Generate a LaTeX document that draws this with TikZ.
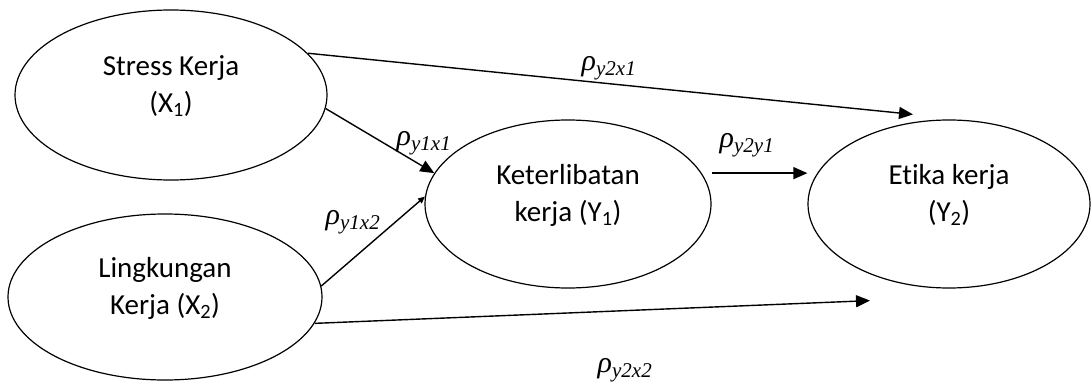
\documentclass[tikz,border=0pt]{standalone}
\usepackage{fontspec}
\setmainfont{Carlito}[Ligatures={NoCommon,NoContextual,NoRare},
  Contextuals=NoAlternate]
\newfontfamily\coeffont{Liberation Serif}
\usetikzlibrary{shapes.geometric,arrows.meta}
\begin{document}
\begin{tikzpicture}[
  x=1pt, y=-1pt,
  construct/.style = {draw, ellipse, line width=1.2pt, inner sep=0pt},
  txt/.style = {align=center, inner sep=0pt, yshift=9pt,
    font=\fontsize{29}{37}\selectfont},
  arr/.style = {line width=1.4pt, -{Triangle[length=14pt,width=12pt]}},
  coef/.style = {inner sep=0pt, font=\coeffont\itshape\fontsize{30}{30}\selectfont},
]

% ── Frame ─────────────────────────────────────────────────────────────────
\useasboundingbox (0,0) rectangle (1092,385);

% ── Constructs ────────────────────────────────────────────────────────────
\node[construct, minimum width=312pt, minimum height=170pt,
      label={[txt]center:{Stress Kerja\\(X\textsubscript{1})}}] (x1) at (171,95) {};
\node[construct, minimum width=314pt, minimum height=166pt,
      label={[txt]center:{Lingkungan\\Kerja (X\textsubscript{2})}}] (x2) at (165,297) {};
\node[construct, minimum width=286pt, minimum height=168pt,
      label={[txt]center:{Keterlibatan\\kerja (Y\textsubscript{1})}}] (y1) at (568,204) {};
\node[construct, minimum width=282pt, minimum height=168pt,
      label={[txt]center:{Et\kern0pt ika kerja\\(Y\textsubscript{2})}}] (y2) at (949,204) {};

% ── Paths ─────────────────────────────────────────────────────────────────
\draw[arr] (x1.17) -- ([xshift=-36pt,yshift=5pt]y2.north);
\draw[arr] (x1.-5) -- (y1.167);
\draw[arr, -{Triangle[length=7pt,width=6pt]}] (x2.4) -- (y1.177);
\draw[arr] ([xshift=10pt]y1.13) -- (y1.13 -| y2.west);
\draw[arr] (x2.-10) -- ([xshift=-79pt,yshift=-12pt]y2.south);

% ── Coefficients ──────────────────────────────────────────────────────────
\node[coef] (p21) at (609,68)  {ρ\textsubscript{y2x1}};
\node[coef] (p11) at (424,143) {ρ\textsubscript{y1x1}};
\node[coef] (p12) at (353,222) {ρ\textsubscript{y1x2}};
\node[coef] (p2y) at (747,145) {ρ\textsubscript{y2y1}};
\node[coef] (p22) at (625,370) {ρ\textsubscript{y2x2}};

\end{tikzpicture}
\end{document}
